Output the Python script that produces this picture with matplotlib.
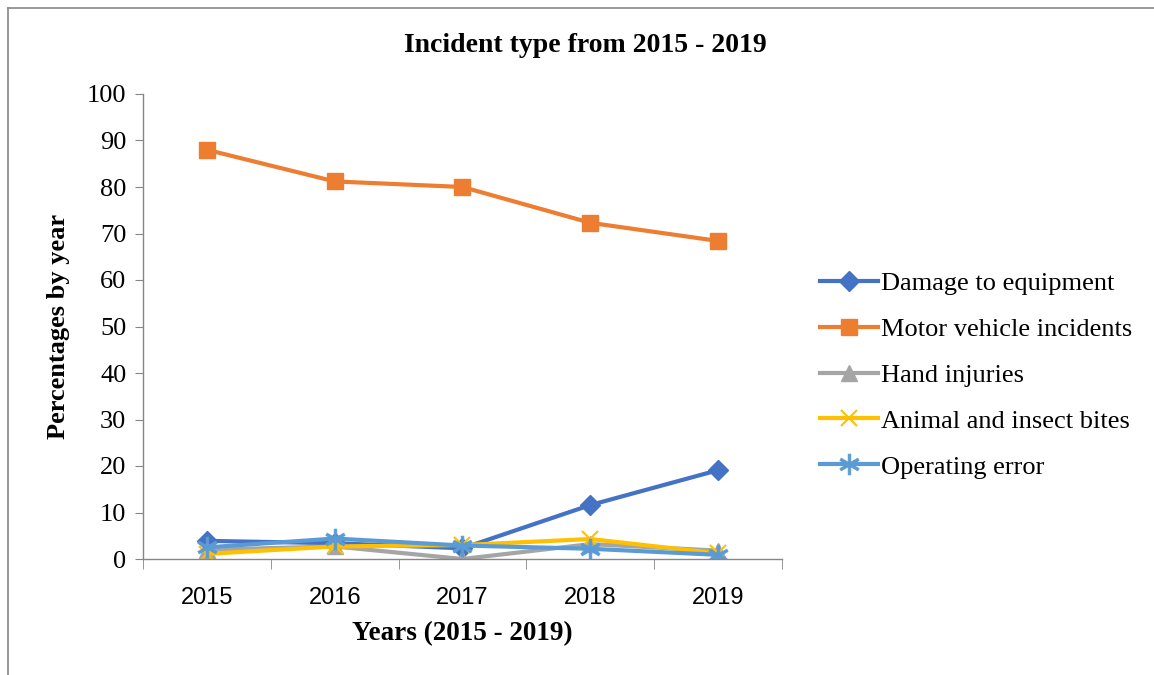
import matplotlib
matplotlib.use("Agg")
import matplotlib.pyplot as plt
from matplotlib.lines import Line2D
import numpy as np

years = ["2015", "2016", "2017", "2018", "2019"]
damage = [3.9, 3.4, 2.3, 11.6, 19.1]
motor = [88.0, 81.2, 80.0, 72.3, 68.4]
hand = [2.0, 2.7, 0.0, 3.2, 1.8]
animal = [1.1, 2.7, 3.0, 4.3, 1.2]
operating = [2.5, 4.4, 2.9, 2.2, 0.9]

series = [
    ("Damage to equipment", damage, "#4472C4", "D", 10),
    ("Motor vehicle incidents", motor, "#ED7D31", "s", 12),
    ("Hand injuries", hand, "#A5A5A5", "^", 11),
    ("Animal and insect bites", animal, "#FFC000", "x", 12),
    ("Operating error", operating, "#5B9BD5", "$\\ast$", 15),
]

fig = plt.figure(figsize=(11.54, 6.75), dpi=100)
ax = fig.add_axes([143/1154, 1-559/675, (782-143)/1154, (559-94)/675])

x = np.arange(len(years))
for name, vals, col, mk, ms in series:
    kw = dict(color=col, lw=3, marker=mk, markersize=ms, label=name)
    if mk == "x":
        kw.update(markeredgewidth=1.5)
    elif mk.startswith("$"):
        kw.update(markeredgewidth=0.5)
    ax.plot(x, vals, **kw)

ax.set_xlim(-0.5, 4.5)
ax.set_ylim(0, 100)
ax.set_yticks(range(0, 101, 10))
ax.set_yticklabels([str(v) for v in range(0, 101, 10)], fontfamily="Liberation Serif", fontsize=19)
ax.set_xticks(x)
ax.set_xticklabels(years, fontfamily="Liberation Sans", fontsize=17)
ax.set_xticks(np.arange(-0.5, 5, 1), minor=True)
ax.tick_params(axis="x", which="major", length=0, pad=20)
ax.tick_params(axis="x", which="minor", length=7, color="#868686", direction="out")
ax.tick_params(axis="y", length=6, color="#868686", direction="out", pad=6)
for s in ["top", "right"]:
    ax.spines[s].set_visible(False)
for s in ["left", "bottom"]:
    ax.spines[s].set_color("#868686")
    ax.spines[s].set_linewidth(1)

fig.text(585/1154, 1-45/675, "Incident type from 2015 - 2019", fontfamily="Liberation Serif",
         fontweight="bold", fontsize=20, ha="center", va="center")
ax.set_xlabel("Years (2015 - 2019)", fontfamily="Liberation Serif", fontweight="bold", fontsize=19.5, labelpad=9)
ax.set_ylabel("Percentages by year", fontfamily="Liberation Serif", fontweight="bold", fontsize=19, labelpad=12)

leg = fig.legend(loc="center left", bbox_to_anchor=(820/1154, 1-375/675), frameon=False,
                 prop={"family": "Liberation Serif", "size": 19}, handlelength=2.2,
                 handletextpad=0.1, labelspacing=0.85, borderpad=0, borderaxespad=0)

# outer chart border: only left and top edges visible in the reference
fig.add_artist(Line2D([8/1154, 8/1154], [0, 1-8/675], transform=fig.transFigure,
                      color="#888888", lw=1.2))
fig.add_artist(Line2D([8/1154, 1], [1-8/675, 1-8/675], transform=fig.transFigure,
                      color="#888888", lw=1.2))

fig.savefig("out.png", dpi=100)
